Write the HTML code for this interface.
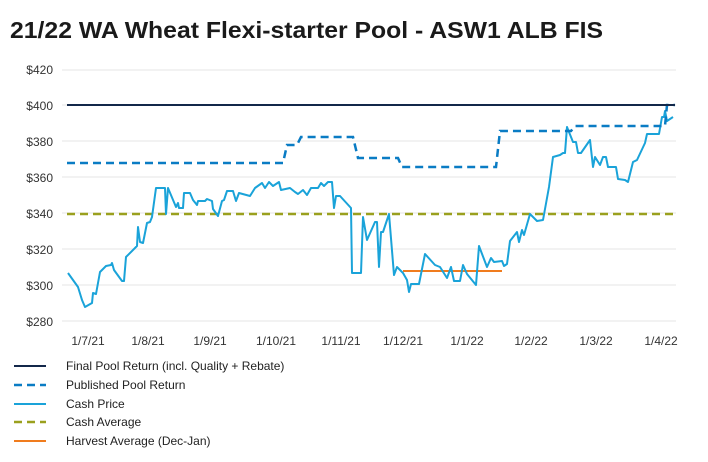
<!DOCTYPE html>
<html><head><style>
body{margin:0;background:#fff;}
svg{display:block;font-family:"Liberation Sans",sans-serif;}
</style></head><body>
<svg width="708" height="462" viewBox="0 0 708 462">
<text x="10" y="38" font-size="23" font-weight="bold" fill="#1a1a1a" textLength="593" lengthAdjust="spacingAndGlyphs">21/22 WA Wheat Flexi-starter Pool - ASW1 ALB FIS</text>
<g stroke="#e6e6e6" stroke-width="1">
<line x1="62" x2="676" y1="70" y2="70"/><line x1="62" x2="676" y1="105" y2="105"/>
<line x1="62" x2="676" y1="141" y2="141"/><line x1="62" x2="676" y1="177" y2="177"/>
<line x1="62" x2="676" y1="213" y2="213"/><line x1="62" x2="676" y1="249" y2="249"/>
<line x1="62" x2="676" y1="285" y2="285"/><line x1="62" x2="676" y1="321" y2="321"/>
</g>
<g font-size="12" fill="#333" text-anchor="end">
<text x="53" y="74">$420</text><text x="53" y="110">$400</text><text x="53" y="146">$380</text>
<text x="53" y="182">$360</text><text x="53" y="218">$340</text><text x="53" y="254">$320</text>
<text x="53" y="290">$300</text><text x="53" y="326">$280</text>
</g>
<g font-size="12" fill="#333" text-anchor="middle">
<text x="88" y="345">1/7/21</text><text x="148" y="345">1/8/21</text><text x="210" y="345">1/9/21</text>
<text x="276" y="345">1/10/21</text><text x="341" y="345">1/11/21</text><text x="403" y="345">1/12/21</text>
<text x="467" y="345">1/1/22</text><text x="531" y="345">1/2/22</text><text x="596" y="345">1/3/22</text><text x="661" y="345">1/4/22</text>
</g>
<line x1="67" x2="675" y1="214" y2="214" stroke="#9aa01e" stroke-width="2.5" stroke-dasharray="8,5"/>
<line x1="403" x2="502" y1="271" y2="271" stroke="#f07c1e" stroke-width="2"/>
<polyline fill="none" stroke="#1aa3d9" stroke-width="2" stroke-linejoin="round" points="68,273 78,287 82,300 85,307 92,303 93,293 96,294 100,272 106,266 111,265 112,263 114,270 122,281 124,281 126,257 137,246 138,227 140,242 143,243 147,223 150,222 152,217 156,188 165,188 166,214 168,188 176,207 178,203 179,208 183,208 184,193 190,193 193,200 197,205 198,201 205,201 207,199 212,201 213,209 218,216 222,201 224,200 227,191 233,191 236,201 239,193 250,196 255,188 262,183 265,188 269,182 273,186 279,182 281,190 290,188 295,192 298,194 303,190 307,195 311,188 318,188 321,183 324,186 328,182 332,182 334,208 336,196 340,196 351,208 352,273 361,273 363,217 367,240 375,222 377,222 379,267 381,232 383,232 389,214 394,275 397,267 403,273 407,280 409,292 411,284 419,284 425,254 435,265 440,267 447,278 451,267 454,281 460,281 463,265 467,274 476,285 479,246 487,267 491,258 494,262 502,261 504,266 507,264 510,241 517,232 519,242 522,230 524,235 530,214 537,221 543,220 549,187 553,157 560,155 563,153 565,153 567,127 573,142 576,142 578,153 581,153 590,140 593,167 595,157 600,165 603,157 606,157 608,167 616,167 618,179 625,180 628,182 633,162 637,160 645,143 647,134 659,134 662,117 664,117 665,111 667,121 673,117"/>
<polyline fill="none" stroke="#0a7cc4" stroke-width="2.5" stroke-dasharray="8,5" points="67,163 283,163 287,145 297,145 301,137 353,137 358,158 398,158 402,167 496,167 500,131 571,131 575,126 665,126 667,105 675,105"/>
<line x1="67" x2="675" y1="105" y2="105" stroke="#13284a" stroke-width="2"/>
<g stroke-width="2">
<line x1="14" x2="46" y1="366" y2="366" stroke="#13284a"/>
<line x1="14" x2="46" y1="385" y2="385" stroke="#0a7cc4" stroke-width="2.5" stroke-dasharray="8,5"/>
<line x1="14" x2="46" y1="404" y2="404" stroke="#1aa3d9"/>
<line x1="14" x2="46" y1="422" y2="422" stroke="#9aa01e" stroke-width="2.5" stroke-dasharray="8,5"/>
<line x1="14" x2="46" y1="441" y2="441" stroke="#f07c1e"/>
</g>
<g font-size="12" fill="#222">
<text x="66" y="370">Final Pool Return (incl. Quality + Rebate)</text>
<text x="66" y="389">Published Pool Return</text>
<text x="66" y="408">Cash Price</text>
<text x="66" y="426">Cash Average</text>
<text x="66" y="445">Harvest Average (Dec-Jan)</text>
</g>
</svg>
</body></html>
